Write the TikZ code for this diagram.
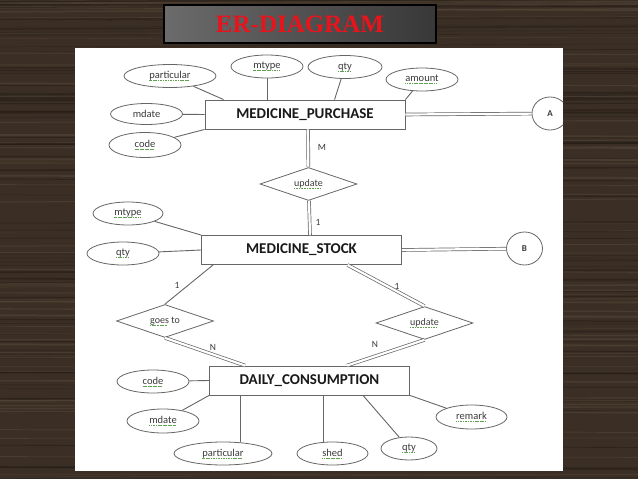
\documentclass[tikz,border=0pt]{standalone}
\usepackage{fontspec}
\setmainfont{Carlito}
\newfontfamily\titlefont{Liberation Serif}
\usetikzlibrary{shapes.geometric,calc}
\definecolor{wood}{HTML}{3B2F25}
\definecolor{woodl}{HTML}{5A4A3C}
\definecolor{woodd}{HTML}{221A14}
\definecolor{ln}{HTML}{666666}
\definecolor{txt}{HTML}{3A3A3A}
\definecolor{sqg}{HTML}{5FA050}
\definecolor{ttlred}{HTML}{E8141C}
\newcommand\sq[1]{\setbox0\hbox{#1}\rlap{\textcolor{sqg}{\raisebox{-0.38ex}{\hbox to\wd0{\leaders\hbox{\rule{0.11em}{0.1ex}\kern0.05em}\hfill}}}}\box0\relax}
\tikzset{
  ent/.style={draw=ln,line width=0.9pt,minimum width=200pt,minimum height=29pt,inner sep=0pt,text=black!90,font=\fontsize{15}{18}\selectfont\bfseries},
  att/.style={ellipse,draw=ln,line width=0.8pt,minimum width=72pt,minimum height=23pt,inner sep=0pt,text=txt,font=\fontsize{10.5}{12}\selectfont},
  rel/.style={diamond,draw=ln,line width=0.8pt,aspect=2.9,minimum width=97pt,minimum height=33pt,inner sep=0pt,text=txt,font=\fontsize{10}{12}\selectfont},
  off/.style={ellipse,draw=ln,line width=0.8pt,minimum width=36pt,minimum height=33pt,inner sep=0pt,text=txt,font=\fontsize{9}{11}\selectfont\bfseries},
  con/.style={draw=ln,line width=0.9pt},
  dbl/.style={draw=ln,line width=0.7pt,double=white,double distance=2.2pt},
  card/.style={inner sep=1pt,text=txt,font=\fontsize{9.5}{11}\selectfont},
}
\begin{document}
\begin{tikzpicture}[x=1pt,y=-1pt]
\useasboundingbox (0,0) rectangle (638,479);
\fill[wood] (0,0) rectangle (638,479);
\pgfmathsetseed{11}
\foreach \i in {1,...,70}{
  \pgfmathsetmacro\yy{rnd*479} \pgfmathsetmacro\ww{0.3+rnd*1.5}
  \draw[woodl,opacity=0.45,line width=\ww pt] (0,\yy) -- (638,\yy+rnd*6-3);
  \pgfmathsetmacro\yy{rnd*479}
  \draw[woodd,opacity=0.5,line width=\ww pt] (0,\yy) -- (638,\yy+rnd*6-3);
}
\node[draw=black,line width=1.5pt,left color=black!58,middle color=black!18,right color=black!78,minimum width=272pt,minimum height=38pt,inner sep=0pt,text=ttlred,font=\titlefont\fontsize{25}{28}\selectfont\bfseries] (ttl) at (300,24) {ER-DIAGRAM};
\fill[white] (75,48) rectangle (563,471);
\begin{scope}
\clip (75,48) rectangle (563,471);
\node[ent] (mp) at (305,114.5) {MEDICINE\_PURCHASE};
\node[ent] (ms) at (301.5,250) {MEDICINE\_STOCK};
\node[ent] (dc) at (309.5,380.5) {DAILY\_CONSUMPTION};
\node[off] (A) at (550,113.5) {A}; \node[off] (B) at (524.5,248.5) {B};
\node[rel] (upd1) at (308.5,184) {\sq{update}};
\node[rel] (gto) at (165,321) {\sq{goes} to};
\node[rel] (upd2) at (424.5,323) {\sq{update}};
\node[att,minimum width=92pt] (par1) at (170,76) {\sq{particular}};
\node[att] (mty1) at (267,66.5) {\sq{mtype}}; \node[att,minimum width=74pt] (qty1) at (345,67) {\sq{qty}};
\node[att] (amt) at (422,79.5) {\sq{amount}};
\node[att,minimum height=21pt] (md1) at (146.5,114) {mdate}; \node[att,minimum height=25pt] (cod1) at (145,145) {\sq{code}};
\node[att,minimum width=70pt] (mty2) at (128,213.5) {\sq{mtype}}; \node[att] (qty2) at (123,253.5) {\sq{qty}};
\node[att] (cod2) at (153,381.5) {\sq{code}}; \node[att,minimum height=24pt] (md2) at (163,421) {\sq{mdate}};
\node[att,minimum width=98pt] (par2) at (223,453.5) {\sq{particular}}; \node[att,minimum width=71pt] (shd) at (332.5,453.5) {\sq{shed}};
\node[att,minimum width=56pt] (qty3) at (409,448.5) {\sq{qty}}; \node[att,minimum width=71pt,minimum height=24pt] (rmk) at (471.5,417) {\sq{remark}};
\draw[con] (par1) -- ($(mp.north west)+(19,0)$); \draw[con] (mty1) -- (mty1.center |- mp.north);
\draw[con] (qty1) -- ($(mp.north west)+(130,0)$); \draw[con] (amt) -- (mp.north east);
\draw[con] (md1) -- (mp.west); \draw[con] (cod1) -- (mp.south west);
\draw[con] (mty2) -- (ms.north west); \draw[con] (qty2) -- (ms.west);
\draw[con] (cod2) -- (dc.west); \draw[con] (md2) -- (dc.south west);
\draw[con] ($(dc.south west)+(31,0)$) coordinate (p1) -- (p1 |- par2.north);
\draw[con] ($(dc.south west)+(114,0)$) coordinate (p2) -- (p2 |- shd.north);
\draw[con] (qty3) -- ($(dc.south west)+(154,0)$); \draw[con] (rmk) -- (dc.south east);
\draw[dbl] (mp.east) -- (A); \draw[dbl] (ms.east) -- (B);
\draw[dbl] (upd1) -- ($(mp.south west)+(103.5,0)$); \draw[dbl] (upd1) -- ($(upd1.center |- ms.north)+(1.5,0)$);
\draw[con] ($(ms.south west)+(12,0)$) -- (gto.north);
\draw[dbl] (gto.south) -- ($(dc.north west)+(36,0)$);
\draw[dbl] ($(ms.south west)+(146.5,0)$) -- (upd2.north);
\draw[dbl] (upd2.south) -- ($(dc.north west)+(138,0)$);
\node[card] (cm) at (322,147) {M}; \node[card] (c1) at (318,222) {1};
\node[card] (c2) at (177,285) {1}; \node[card] (c3) at (213,347) {N};
\node[card] (c4) at (397,286) {1}; \node[card] (c5) at (375,344) {N};
\end{scope}
\end{tikzpicture}
\end{document}
